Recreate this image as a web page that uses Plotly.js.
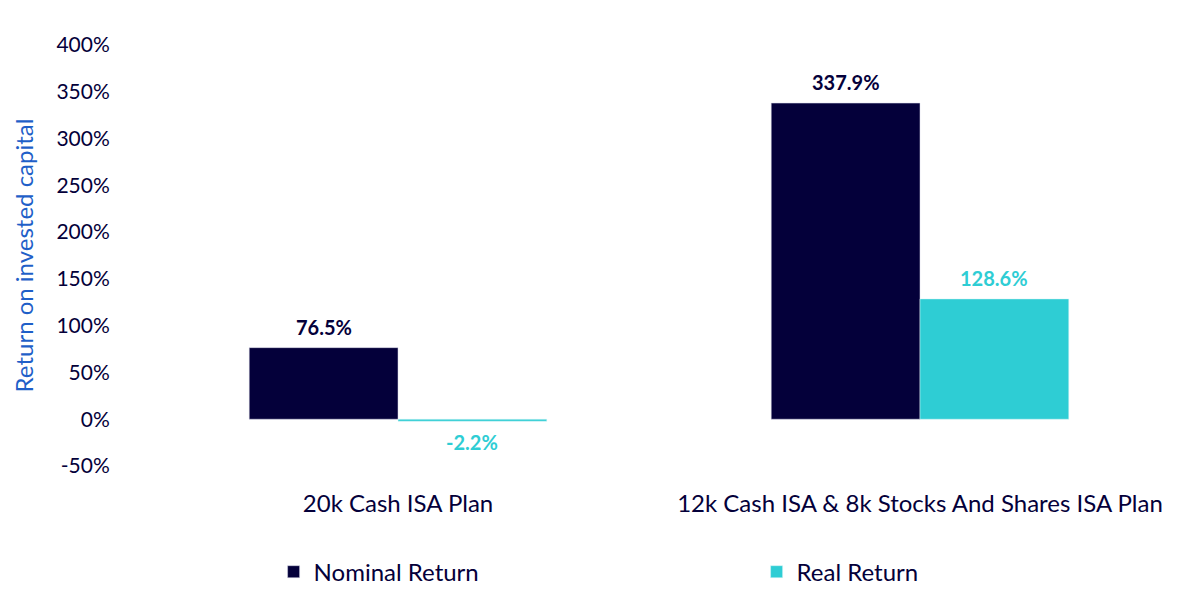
<!DOCTYPE html>
<html>
<head>
<meta charset="utf-8">
<script src="https://cdn.plot.ly/plotly-3.0.1.min.js"></script>
<style>
  html, body { margin: 0; padding: 0; background: #fff; }
  #chart { width: 1200px; height: 591px; }
</style>
</head>
<body>
<div id="chart"></div>
<script>
// data
const plans = ['20k Cash ISA Plan', '12k Cash ISA & 8k Stocks And Shares ISA Plan'];
const nominalReturn = [76.5, 337.9];
const realReturn = [-2.2, 128.6];
const yTicks = [-50, 0, 50, 100, 150, 200, 250, 300, 350, 400];

const navy = '#04003a';
const cyan = '#2ecdd4';
const font = 'Lato, "Open Sans", sans-serif';
const bargap = 0.43;

// value labels above / below each bar
const off = (1 - bargap) / 4;
const annotations = [];
function addLabels(values, dx, color) {
    values.forEach((v, i) => {
        annotations.push({
            x: i + dx, y: v, xref: 'x', yref: 'y',
            text: v.toFixed(1) + '%',
            showarrow: false,
            yanchor: 'middle',
            yshift: v >= 0 ? 21 : -21,
            font: { family: font, size: 20, color: color, weight: 'bold' }
        });
    });
}
addLabels(nominalReturn, -off, navy);
addLabels(realReturn, off, cyan);

const traces = [
    {
        type: 'bar', name: 'Nominal Return', x: plans, y: nominalReturn,
        marker: { color: navy, line: { color: '#d8d8e8', width: 0.5 } },
        legend: 'legend', hoverinfo: 'skip'
    },
    {
        type: 'bar', name: 'Real Return', x: plans, y: realReturn,
        marker: { color: cyan, line: { color: '#d8f4f6', width: 0.5 } },
        legend: 'legend2', hoverinfo: 'skip'
    }
];

const legendBase = {
    orientation: 'h', xref: 'container', yref: 'container',
    xanchor: 'left', yanchor: 'middle', y: 0.032,
    font: { family: font, size: 24, color: navy },
    itemclick: false, itemdoubleclick: false
};

const layout = {
    width: 1200, height: 591,
    paper_bgcolor: '#fff', plot_bgcolor: '#fff',
    font: { family: font, color: navy },
    margin: { l: 137, r: 19, t: 45, b: 125 },
    barmode: 'group', bargap: bargap, bargroupgap: 0,
    showlegend: true,
    legend: Object.assign({}, legendBase, { x: 0.228 }),
    legend2: Object.assign({}, legendBase, { x: 0.6305 }),
    xaxis: {
        type: 'category', range: [-0.5, 1.5], automargin: false,
        showgrid: false, showline: false, zeroline: false,
        ticks: 'outside', ticklen: 16, tickcolor: 'rgba(0,0,0,0)',
        tickfont: { family: font, size: 24, color: navy }
    },
    yaxis: {
        range: [-50, 400], tickvals: yTicks, automargin: false,
        ticktext: yTicks.map(t => t + '%'),
        showgrid: false, showline: false, zeroline: false,
        ticks: 'outside', ticklen: 22, tickcolor: 'rgba(0,0,0,0)',
        tickfont: { family: font, size: 21, color: navy },
        title: {
            text: 'Return on invested capital', standoff: 16,
            font: { family: font, size: 24, color: '#1f5fc8' }
        }
    },
    annotations: annotations
};

Plotly.newPlot('chart', traces, layout, { displayModeBar: false, staticPlot: true });
</script>
</body>
</html>
